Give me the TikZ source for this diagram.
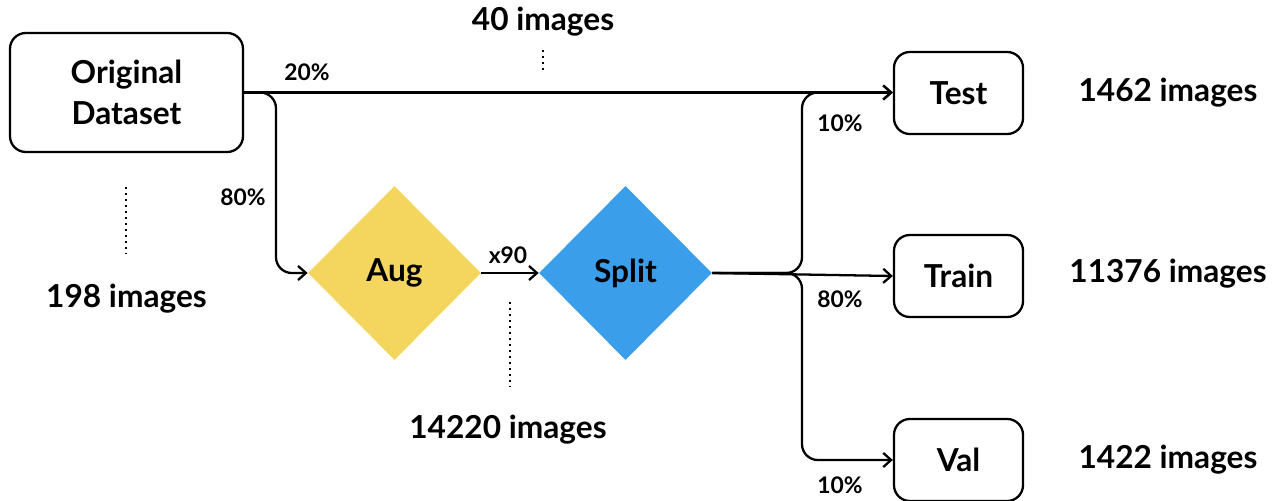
\documentclass[tikz,border=0pt]{standalone}
\usepackage{fontspec}
\setmainfont{Lato}
\usetikzlibrary{shapes.geometric,arrows.meta}
\definecolor{augyellow}{RGB}{244,214,94}
\definecolor{splitblue}{RGB}{58,158,234}
\begin{document}
\begin{tikzpicture}[font=\bfseries]

    \tikzset{
      setbox/.style={
        draw,
        line width=1.3pt,
        rounded corners=9pt,
        align=center,
        font=\fontsize{18}{23}\bfseries,
      },
      stepdiamond/.style={
        diamond,
        aspect=1,
        inner sep=0pt,
        minimum width=3.46cm,
        minimum height=3.48cm,
        font=\fontsize{18}{23}\bfseries,
      },
      arr/.style={
        line width=1.3pt,
        -{Straight Barb[length=4.5pt,width=8pt,line width=1.3pt]},
        rounded corners=9pt,
      },
      dots/.style={
        line width=1.4pt,
        dotted,
      },
      count/.style={font=\fontsize{18}{23}\bfseries},
      pct/.style={font=\fontsize{13}{15}\bfseries},
    }
    \useasboundingbox (0,0) rectangle (25.46,-10.02);
	% boxes
	\node[setbox, minimum width=4.66cm, minimum height=2.38cm] (orig) at (2.53,-1.85) {Original\\Dataset};
	\node[setbox, minimum width=2.58cm, minimum height=1.64cm] (test) at (19.17,-1.86) {Test};
	\node[setbox, minimum width=2.58cm, minimum height=1.64cm] (train) at (19.17,-5.52) {Train};
	\node[setbox, minimum width=2.58cm, minimum height=1.64cm] (val) at (19.17,-9.2) {Val};
	\node[stepdiamond, fill=augyellow] (aug) at (7.89,-5.46) {Aug};
	\node[stepdiamond, fill=splitblue] (split) at (12.51,-5.46) {Split};
	% branch points
	\coordinate (b1) at (5.52,0);
	\coordinate (b2) at (16.04,0);
	% connectors
	\draw[arr] (orig.east) -- (orig.east -| test.west);
	\draw[arr] (orig.east) -| (b1 |- aug.west) -- (aug.west);
	\draw[arr] (aug.east) -- (split.west);
	\draw[arr] (split.east) -| (b2 |- orig.east) -- (orig.east -| test.west);
	\draw[arr] (split.east) -- (train.west);
	\draw[arr] (split.east) -| (b2 |- val.west) -- (val.west);
	% labels
	\node[pct] (p20) at (6.14,-1.44) {20\%};
	\node[pct] (p80) at (4.86,-3.94) {80\%};
	\node[pct] (x90) at (10.16,-5.1) {x90};
	\node[pct] (t10) at (16.8,-2.46) {10\%};
	\node[pct] (tr80) at (16.8,-5.98) {80\%};
	\node[pct] (v10) at (16.8,-9.7) {10\%};
	\node[count] (n40) at (10.86,-0.44) {40 images};
	\node[count] (n198) at (2.53,-5.98) {198 images};
	\node[count] (n14220) at (10.16,-8.6) {14220 images};
	\node[count] (n1462) at (23.36,-1.86) {1462 images};
	\node[count] (n11376) at (23.36,-5.48) {11376 images};
	\node[count] (n1422) at (23.36,-9.2) {1422 images};
	% dotted ticks
	\coordinate (d40a) at (10.86,-1.0);
	\coordinate (d40b) at (10.86,-1.46);
	\coordinate (d198a) at (2.52,-3.74);
	\coordinate (d198b) at (2.52,-5.08);
	\coordinate (d142a) at (10.2,-6.04);
	\coordinate (d142b) at (10.2,-7.74);
	\draw[dots] (d40a) -- (d40b);
	\draw[dots] (d198a) -- (d198b);
	\draw[dots] (d142a) -- (d142b);

\end{tikzpicture}
\end{document}
